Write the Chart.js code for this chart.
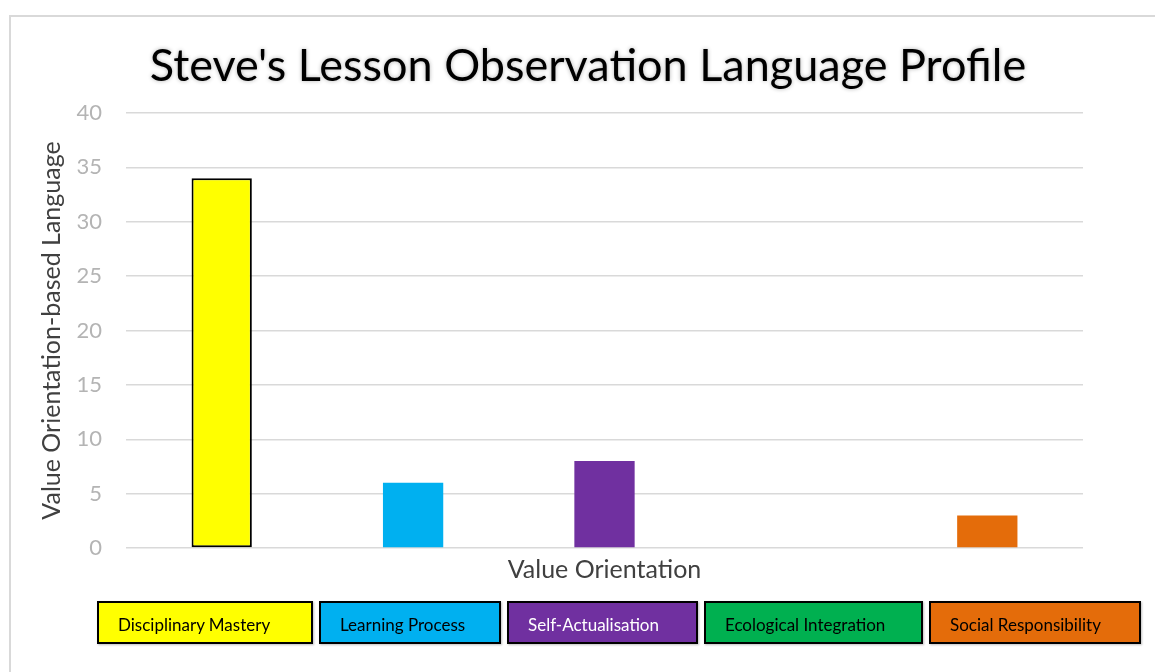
<!DOCTYPE html>
<html>
<head>
<meta charset="utf-8">
<script src="https://cdn.jsdelivr.net/npm/chart.js@4"></script>
<style>
  body { margin: 0; background: #fff; }
  #wrap { position: relative; width: 1155px; height: 672px; overflow: hidden; }
  #frame { position: absolute; left: 9px; top: 15px; width: 1200px; height: 700px;
           border-left: 2px solid #d9d9d9; border-top: 2px solid #d9d9d9; }
  #chart { position: absolute; left: 0; top: 0; }
  #keys { position: absolute; left: 97px; top: 601px; display: flex; gap: 6px; }
  .key { box-sizing: border-box; height: 43px; border: 2px solid #000; padding-left: 19px;
         font: 17px Lato, sans-serif; line-height: 43px; white-space: nowrap;
         box-shadow: 1px 1px 2px rgba(0,0,0,0.25); }
</style>
</head>
<body>
<div id="wrap">
  <div id="frame"></div>
  <canvas id="chart" width="1155" height="672"></canvas>
  <div id="keys"></div>
</div>
<script>
// chart data
const categories = ['Disciplinary Mastery', 'Learning Process', 'Self-Actualisation', 'Ecological Integration', 'Social Responsibility'];
const counts = [34, 6, 8, 0, 3];
const barColors = ['#FFFF00', '#00B0F0', '#7030A0', '#00B050', '#E46C0A'];
const keyTextColors = ['#000', '#000', '#fff', '#000', '#000'];
const keyWidths = [216, 182, 191, 219, 212];

const titleText = "Steve's Lesson Observation Language Profile";

// key boxes under the chart
const keys = document.getElementById('keys');
categories.forEach((name, i) => {
    const d = document.createElement('div');
    d.className = 'key';
    d.textContent = name;
    d.style.background = barColors[i];
    d.style.color = keyTextColors[i];
    d.style.width = keyWidths[i] + 'px';
    keys.appendChild(d);
});

// title drawn with a soft glow like the original
const glowTitle = {
    id: 'glowTitle',
    afterDraw(chart) {
        const ctx = chart.ctx;
        ctx.save();
        ctx.font = '45px Lato';
        ctx.textAlign = 'center';
        ctx.textBaseline = 'middle';
        ctx.shadowColor = 'rgba(0,0,0,0.3)';
        ctx.shadowBlur = 4;
        ctx.fillStyle = '#000';
        ctx.fillText(titleText, 588, 66);
        ctx.restore();
    }
};

const ctx = document.getElementById('chart').getContext('2d');
new Chart(ctx, {
    type: 'bar',
    data: {
        labels: categories,
        datasets: [{
            data: counts,
            backgroundColor: barColors,
            borderColor: '#000',
            borderWidth: [2, 0, 0, 0, 0],
            borderSkipped: false,
            categoryPercentage: 1,
            barPercentage: 0.315,
        }]
    },
    options: {
        responsive: false,
        animation: false,
        layout: { padding: { top: 113, right: 72, bottom: 84, left: 0 } },
        plugins: {
            legend: { display: false },
            title: { display: false },
            tooltip: { enabled: false }
        },
        scales: {
            x: {
                grid: { display: false },
                border: { display: false },
                ticks: { display: false },
                title: {
                    display: true,
                    text: 'Value Orientation',
                    color: '#404040',
                    font: { family: 'Lato', size: 25 },
                    padding: { top: 0, bottom: 3 }
                },
                afterFit(scale) { scale.height = 40; }
            },
            y: {
                min: 0,
                max: 40,
                ticks: {
                    stepSize: 5,
                    color: '#b4b4b4',
                    padding: 24,
                    font: { family: 'Lato', size: 22 }
                },
                grid: { color: '#d9d9d9', lineWidth: 1.5, drawTicks: false },
                border: { display: false },
                title: {
                    display: true,
                    text: 'Value Orientation-based Language',
                    color: '#404040',
                    font: { family: 'Lato', size: 25 },
                    padding: { top: 37, bottom: 0 }
                },
                afterFit(scale) { scale.width = 126; }
            }
        }
    },
    plugins: [glowTitle]
});
</script>
</body>
</html>
